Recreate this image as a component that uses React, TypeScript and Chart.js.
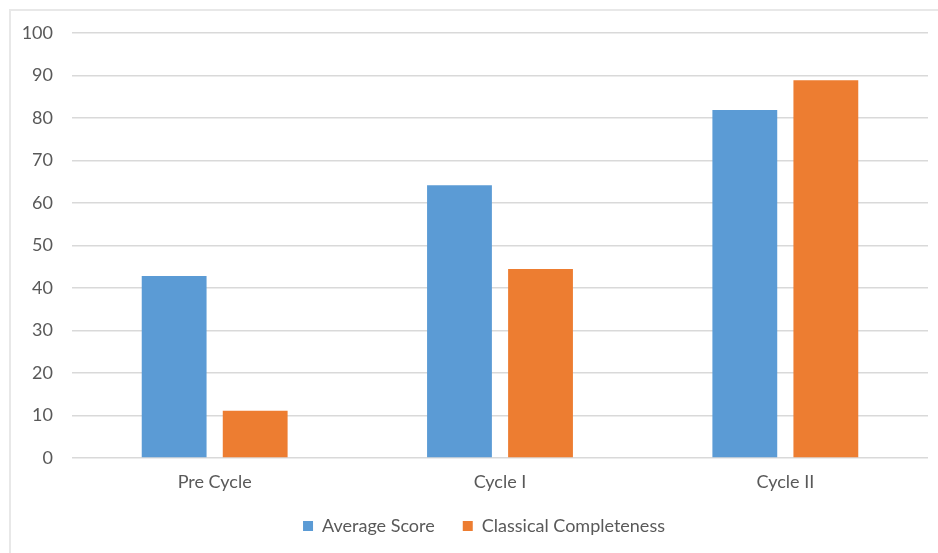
import React, { useEffect, useRef } from "react";
import { Chart, registerables } from "chart.js";

Chart.register(...registerables);

const categories = ["Pre Cycle", "Cycle I", "Cycle II"];
const averageScore = [42.8, 64.2, 81.9];
const classicalCompleteness = [11.1, 44.5, 88.9];
const yTicks = [0, 10, 20, 30, 40, 50, 60, 70, 80, 90, 100];

const FONT = "Lato, 'Open Sans', sans-serif";
const TEXT = "#595959";

export default function App() {
  const ref = useRef<HTMLCanvasElement | null>(null);

  useEffect(() => {
    document.body.style.margin = "0";
    if (!ref.current) return;
    const chart = new Chart(ref.current, {
      type: "bar",
      data: {
        labels: categories,
        datasets: [
          {
            label: "Average Score",
            data: averageScore,
            backgroundColor: "#5B9BD5",
            categoryPercentage: 0.568,
            barPercentage: 0.8,
          },
          {
            label: "Classical Completeness",
            data: classicalCompleteness,
            backgroundColor: "#ED7D31",
            categoryPercentage: 0.568,
            barPercentage: 0.8,
          },
        ],
      },
      options: {
        animation: false,
        responsive: false,
        layout: { padding: { left: 40, right: 10, top: 33, bottom: 8 } },
        scales: {
          x: {
            grid: { display: false, drawTicks: false },
            border: { display: false },
            ticks: { color: TEXT, font: { family: FONT, size: 18 }, padding: 13 },
            afterFit: (s: any) => {
              s.height = 31;
              s._computeLabelArea = () => undefined;
            },
          },
          y: {
            min: 0,
            max: 100,
            afterBuildTicks: (s: any) => {
              s.ticks = yTicks.map((v) => ({ value: v }));
            },
            grid: { color: "#d9d9d9", lineWidth: 1.5, drawTicks: false },
            border: { display: false },
            ticks: { color: TEXT, font: { family: FONT, size: 18 }, padding: 19 },
            afterFit: (s: any) => {
              s.width = 32;
              s._computeLabelArea = () => undefined;
            },
          },
        },
        plugins: {
          legend: {
            position: "bottom",
            labels: {
              boxWidth: 10,
              boxHeight: 10,
              padding: 28,
              color: TEXT,
              font: { family: FONT, size: 18 },
            },
          },
          tooltip: { enabled: false },
        },
      },
    });
    return () => chart.destroy();
  }, []);

  return (
    <div style={{ position: "absolute", left: 0, top: 0, width: 938, height: 553, overflow: "hidden", background: "#fff" }}>
      <div
        style={{
          position: "absolute",
          left: 9,
          top: 9,
          width: 1000,
          height: 700,
          border: "2px solid #e8e8e8",
          boxSizing: "border-box",
        }}
      />
      <canvas ref={ref} width={938} height={553} style={{ position: "absolute", left: 0, top: 0 }} />
    </div>
  );
}
